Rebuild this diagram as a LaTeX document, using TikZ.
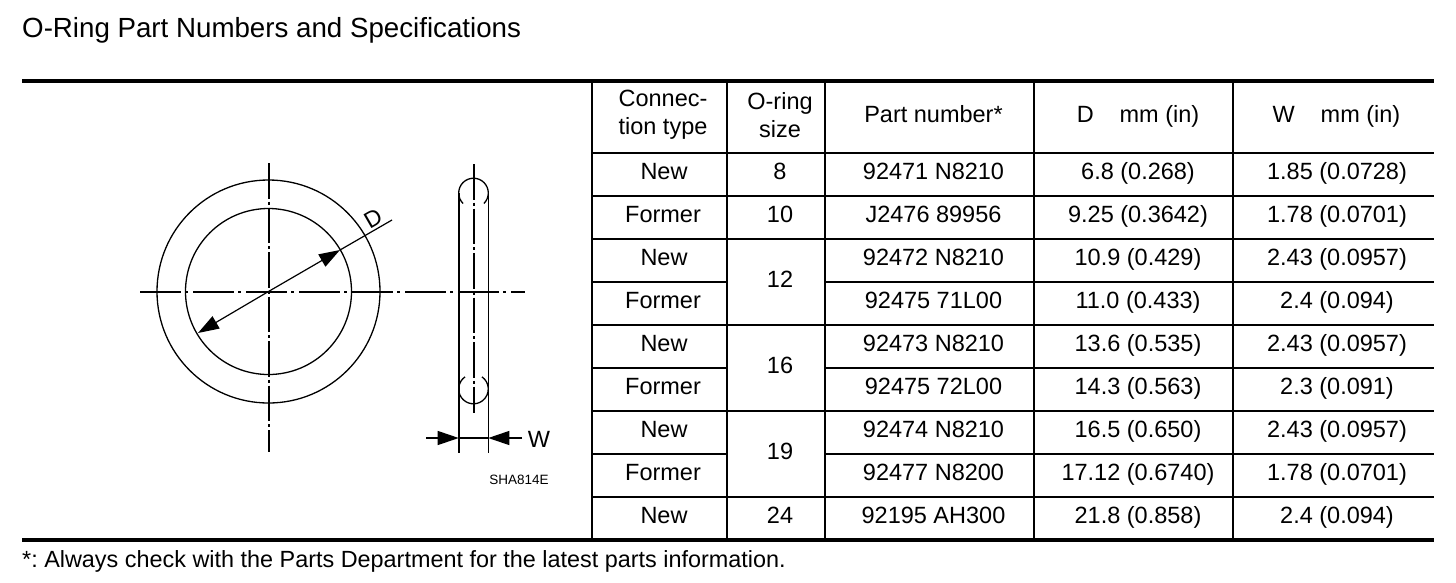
\documentclass[tikz,border=0pt]{standalone}
\usepackage{fontspec}
\setmainfont{Liberation Sans}
\usetikzlibrary{arrows.meta}
\frenchspacing
\tikzset{
	cell/.style={inner sep=0pt, font=\fontsize{23.5}{28}\selectfont, text height=14.5pt, text depth=0pt},
	headcell/.style={inner sep=0pt, font=\fontsize{23.5}{28}\selectfont, align=center},
	rule/.style={line width=2pt},
	heavy/.style={line width=3.6pt},
	outline/.style={line width=1.3pt},
	centerh/.style={line width=2pt, dash pattern=on 41pt off 4pt on 3pt off 5pt},
	centerv/.style={line width=2pt, dash pattern=on 35.5pt off 3pt on 3pt off 3pt},
	dimtip/.style={line width=1.2pt, -{Triangle[length=21pt,width=14pt]}}
}
\begin{document}
\begin{tikzpicture}[x=1pt, y=-1pt]
	\useasboundingbox (0,0) rectangle (1456,582);
	\node[anchor=west, inner sep=0pt, font=\fontsize{27.7}{32}\selectfont] (title) at (22,30) {O-Ring Part Numbers and Specifications};
	\node[anchor=west, inner sep=0pt, font=\fontsize{23.4}{28}\selectfont] (note) at (22,561) {*: Always check with the Parts Department for the latest parts information.};

	\draw[heavy] (22,81) -- (1434,81);
	\draw[heavy] (22,540) -- (1434,540);
	\draw[rule] (592,81) -- (592,540);
	\draw[rule] (727,81) -- (727,540);
	\draw[rule] (825,81) -- (825,540);
	\draw[rule] (1034,81) -- (1034,540);
	\draw[rule] (1233,81) -- (1233,540);
	\draw[rule] (592,153) -- (1434,153);
	\draw[rule] (592,196) -- (1434,196);
	\draw[rule] (592,239) -- (1434,239);
	\draw[rule] (592,282) -- (727,282);
	\draw[rule] (825,282) -- (1434,282);
	\draw[rule] (592,325) -- (1434,325);
	\draw[rule] (592,368) -- (727,368);
	\draw[rule] (825,368) -- (1434,368);
	\draw[rule] (592,411) -- (1434,411);
	\draw[rule] (592,454) -- (727,454);
	\draw[rule] (825,454) -- (1434,454);
	\draw[rule] (592,497) -- (1434,497);

	\node[headcell] (headtype) at (663,115) {Connec-\\tion type};
	\node[headcell] (headsize) at (780,115) {O-ring\\size};
	\node[cell] (headpart) at (933.5,115) {Part number*};
	\node[cell] (headd) at (1138,115) {D\hspace{1.1em}mm (in)};
	\node[cell] (headw) at (1336.5,115) {W\hspace{1.1em}mm (in)};

	\node[cell] (typea) at (664,172) {New};
	\node[cell] (sizea) at (780,172) {8};
	\node[cell] (parta) at (933.5,172) {92471 N8210};
	\node[cell] (da) at (1138,172) {6.8 (0.268)};
	\node[cell] (wa) at (1337,172) {1.85 (0.0728)};

	\node[cell] (typeb) at (663,215) {Former};
	\node[cell] (sizeb) at (780,215) {10};
	\node[cell] (partb) at (933.5,215) {J2476 89956};
	\node[cell] (db) at (1138,215) {9.25 (0.3642)};
	\node[cell] (wb) at (1337,215) {1.78 (0.0701)};

	\node[cell] (typec) at (664,258) {New};
	\node[cell] (sizec) at (780,280) {12};
	\node[cell] (partc) at (933.5,258) {92472 N8210};
	\node[cell] (dc) at (1138,258) {10.9 (0.429)};
	\node[cell] (wc) at (1337,258) {2.43 (0.0957)};

	\node[cell] (typed) at (663,301) {Former};
	\node[cell] (partd) at (933.5,301) {92475 71L00};
	\node[cell] (dd) at (1138,301) {11.0 (0.433)};
	\node[cell] (wd) at (1337,301) {2.4 (0.094)};

	\node[cell] (typee) at (664,344) {New};
	\node[cell] (sizee) at (780,366) {16};
	\node[cell] (parte) at (933.5,344) {92473 N8210};
	\node[cell] (de) at (1138,344) {13.6 (0.535)};
	\node[cell] (we) at (1337,344) {2.43 (0.0957)};

	\node[cell] (typef) at (663,387) {Former};
	\node[cell] (partf) at (933.5,387) {92475 72L00};
	\node[cell] (df) at (1138,387) {14.3 (0.563)};
	\node[cell] (wf) at (1337,387) {2.3 (0.091)};

	\node[cell] (typeg) at (664,430) {New};
	\node[cell] (sizeg) at (780,452) {19};
	\node[cell] (partg) at (933.5,430) {92474 N8210};
	\node[cell] (dg) at (1138,430) {16.5 (0.650)};
	\node[cell] (wg) at (1337,430) {2.43 (0.0957)};

	\node[cell] (typeh) at (663,473) {Former};
	\node[cell] (parth) at (933.5,473) {92477 N8200};
	\node[cell] (dh) at (1138,473) {17.12 (0.6740)};
	\node[cell] (wh) at (1337,473) {1.78 (0.0701)};

	\node[cell] (typei) at (664,516) {New};
	\node[cell] (sizei) at (780,516) {24};
	\node[cell] (parti) at (933.5,516) {92195 AH300};
	\node[cell] (di) at (1138,516) {21.8 (0.858)};
	\node[cell] (wi) at (1337,516) {2.4 (0.094)};

	\coordinate (ringcenter) at (268.5,291.5);
	\coordinate (dtipup) at (340,250);
	\coordinate (dend) at (392,220);
	\coordinate (dtipdown) at (198,333);
	\draw[outline] (ringcenter) circle [radius=111.5];
	\draw[outline] (ringcenter) circle [radius=83];
	\draw[centerv] (268.5,163) -- (268.5,452);
	\draw[centerh] (140,291.5) -- (525,291.5);
	\draw[dimtip] (ringcenter) -- (dtipup);
	\draw[dimtip] (ringcenter) -- (dtipdown);
	\draw[line width=1.2pt] (dtipup) -- (dend);
	\node[rotate=30, inner sep=0pt, font=\fontsize{23}{27}\selectfont] (dlabel) at (373,218) {D};

	\coordinate (arrowleft) at (458.7,438);
	\coordinate (arrowright) at (488.3,438);
	\draw[rule] (458.7,193) -- (458.7,453);
	\draw[outline] (488.3,193) -- (488.3,453);
	\draw[outline] (473.5,193) ++(45:14.8) arc [start angle=45, end angle=-225, radius=14.8];
	\draw[outline] (473.5,389) ++(-125:14.8) arc [start angle=-125, end angle=-415, radius=14.8];
	\draw[centerv] (473.5,164) -- (473.5,413);
	\draw[outline] (arrowleft) -- (arrowright);
	\draw[dimtip] (426,438) -- (arrowleft);
	\draw[dimtip] (522,438) -- (arrowright);
	\node[cell] (wlabel) at (539,440) {W};
	\node[inner sep=0pt, font=\fontsize{13.5}{16}\selectfont] (drawingcode) at (519,480) {SHA814E};
\end{tikzpicture}
\end{document}
